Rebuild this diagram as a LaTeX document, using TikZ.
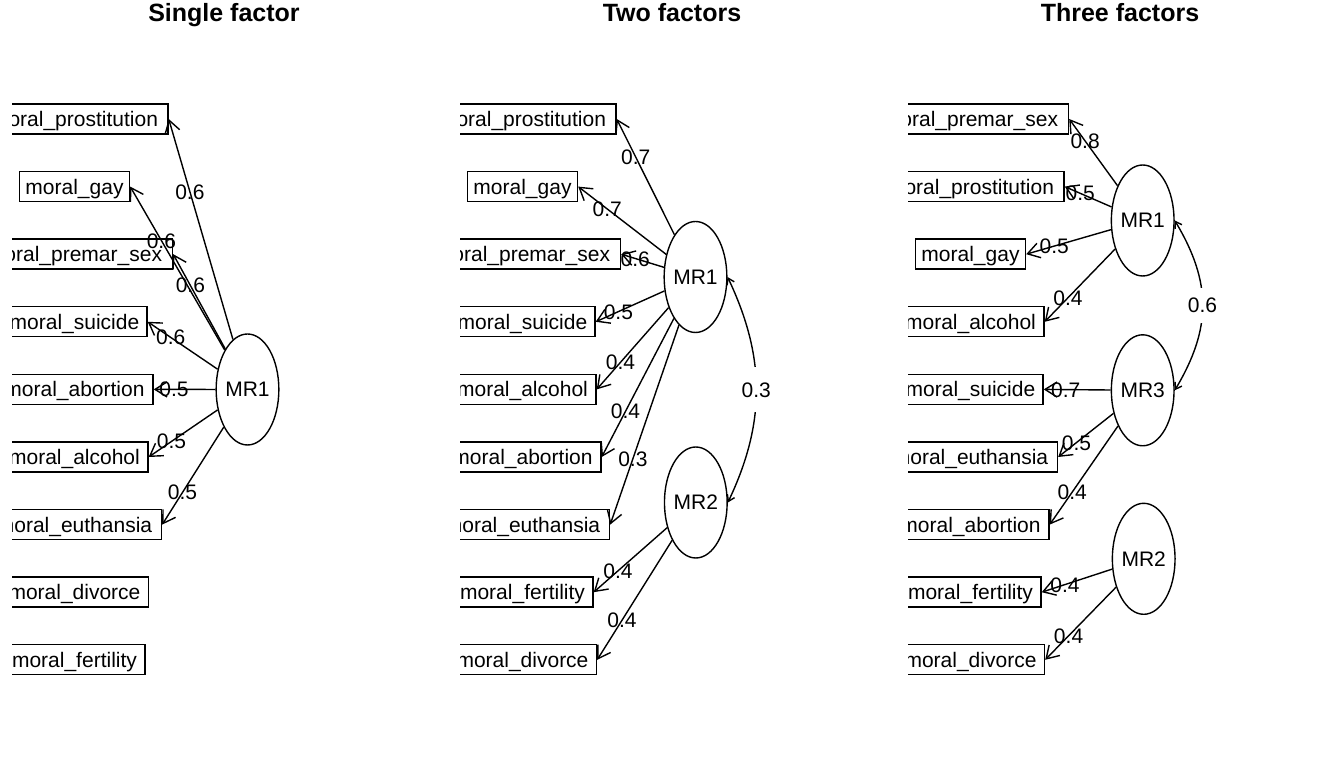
\documentclass[tikz,border=0pt]{standalone}
\usepackage{fontspec}
\setmainfont{Liberation Sans}
\usetikzlibrary{shapes.geometric,arrows.meta}

\tikzset{
  var/.style={draw, line width=1.4pt, font=\fontsize{21}{25}\selectfont,
    minimum height=30pt, text height=15pt, text depth=0pt, inner xsep=0pt, inner ysep=7.5pt},
  fac/.style={draw, ellipse, line width=1.4pt, font=\fontsize{21}{25}\selectfont,
    minimum width=57pt, minimum height=111pt, inner sep=0pt, text height=15pt, text depth=0pt},
  lab/.style={font=\fontsize{21}{25}\selectfont, inner sep=0pt, text height=15pt, text depth=0pt},
  load/.style={line width=1.4pt, -{Straight Barb[length=12pt,width=15pt]}},
  corr/.style={line width=1.4pt, {Straight Barb[length=6pt,width=8pt]}-{Straight Barb[length=6pt,width=8pt]}},
  ttl/.style={font=\fontsize{25}{30}\selectfont\bfseries, inner sep=0pt, text height=18pt, text depth=0pt}
}

\begin{document}
\begin{tikzpicture}[x=1pt,y=1pt]
  \useasboundingbox (0,0) rectangle (1344,768);

  % titles
  \node[ttl] (t1) at (224,755) {Single factor};
  \node[ttl] (t2) at (672,755) {Two factors};
  \node[ttl] (t3) at (1120,755) {Three factors};

  % single factor
  \begin{scope}
    \clip (12,0) rectangle (448,768);
    \foreach \n/\lbl/\w [count=\r from 0] in {pros/prostitution/187, gay/gay/110,
        prem/premar\_sex/196, suic/suicide/145, abor/abortion/157, alco/alcohol/147,
        euth/euthansia/174, divo/divorce/148, fert/fertility/141} {
      \node[var, minimum width=\w] (A-\n) at (74.5,649-67.6*\r) {moral\_\lbl};
    }
    \node[fac] (A-MR1) at (247.5,378.5) {MR1};
    \foreach \n/\v in {pros/0.6, gay/0.6, prem/0.6, suic/0.6, abor/0.5, alco/0.5, euth/0.5} {
      \draw[load] (A-MR1) -- node[lab, pos=0.67] {\v} (A-\n.east);
    }
  \end{scope}

  % two factors
  \begin{scope}
    \clip (460,0) rectangle (896,768);
    \foreach \n/\lbl/\w [count=\r from 0] in {pros/prostitution/187, gay/gay/110,
        prem/premar\_sex/196, suic/suicide/145, alco/alcohol/147, abor/abortion/157,
        euth/euthansia/174, fert/fertility/141, divo/divorce/148} {
      \node[var, minimum width=\w] (B-\n) at (522.5,649-67.6*\r) {moral\_\lbl};
    }
    \node[fac] (B-MR1) at (695.5,491) {MR1};
    \node[fac] (B-MR2) at (695.8,265.5) {MR2};
    \foreach \n/\v in {pros/0.7, gay/0.7, prem/0.6, suic/0.5, alco/0.4, abor/0.4, euth/0.3} {
      \draw[load] (B-MR1) -- node[lab, pos=0.67] {\v} (B-\n.east);
    }
    \foreach \n/\v in {fert/0.4, divo/0.4} {
      \draw[load] (B-MR2) -- node[lab, pos=0.67] {\v} (B-\n.east);
    }
    \draw[corr] (B-MR1.east) .. controls +(38,-80) and +(38,80) ..
      node[lab, fill=white, inner xsep=2pt, inner ysep=15pt] {0.3} (B-MR2.east);
  \end{scope}

  % three factors
  \begin{scope}
    \clip (908,0) rectangle (1344,768);
    \foreach \n/\lbl/\w [count=\r from 0] in {prem/premar\_sex/196, pros/prostitution/187,
        gay/gay/110, alco/alcohol/147, suic/suicide/145, euth/euthansia/174,
        abor/abortion/157, fert/fertility/141, divo/divorce/148} {
      \node[var, minimum width=\w] (C-\n) at (970.5,649-67.6*\r) {moral\_\lbl};
    }
    \node[fac] (C-MR1) at (1142.7,547.5) {MR1};
    \node[fac] (C-MR3) at (1142.7,377.7) {MR3};
    \node[fac] (C-MR2) at (1143.7,209.2) {MR2};
    \foreach \n/\v in {prem/0.8, pros/0.5, gay/0.5, alco/0.4} {
      \draw[load] (C-MR1) -- node[lab, pos=0.67] {\v} (C-\n.east);
    }
    \foreach \n/\v in {suic/0.7, euth/0.5, abor/0.4} {
      \draw[load] (C-MR3) -- node[lab, pos=0.67] {\v} (C-\n.east);
    }
    \foreach \n/\v in {fert/0.4, divo/0.4} {
      \draw[load] (C-MR2) -- node[lab, pos=0.67] {\v} (C-\n.east);
    }
    \draw[corr] (C-MR1.east) .. controls +(37,-62) and +(37,62) ..
      node[lab, fill=white, inner xsep=2pt, inner ysep=10pt] {0.6} (C-MR3.east);
  \end{scope}
\end{tikzpicture}
\end{document}
